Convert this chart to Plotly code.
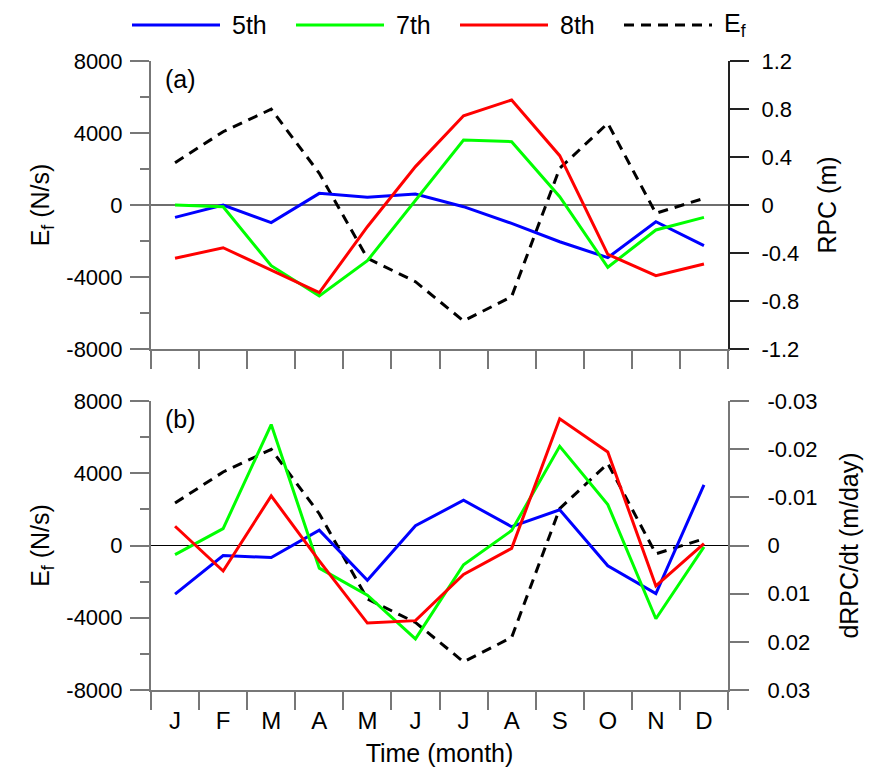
import plotly.graph_objects as go

# ---------------- data ----------------
months = ["J", "F", "M", "A", "M", "J", "J", "A", "S", "O", "N", "D"]
month_idx = list(range(1, 13))

# E_f (N/s), left axes of both panels
ef = [2350, 4070, 5320, 1760, -2960, -4260, -6440, -5090, 2040, 4540, -460, 370]

# RPC (m), panel (a) right axis
rpc_5th = [-0.103, 0.000, -0.147, 0.097, 0.064, 0.092, -0.014, -0.153, -0.306, -0.439, -0.139, -0.339]
rpc_7th = [0.000, -0.014, -0.506, -0.758, -0.464, 0.042, 0.542, 0.528, 0.069, -0.519, -0.208, -0.103]
rpc_8th = [-0.444, -0.356, -0.542, -0.731, -0.181, 0.320, 0.744, 0.875, 0.411, -0.411, -0.589, -0.492]

# dRPC/dt (m/day), panel (b) right axis (reversed)
drpc_5th = [0.0101, 0.0021, 0.0025, -0.0032, 0.0072, -0.0041, -0.0094, -0.0039, -0.0074, 0.0042, 0.0100, -0.0126]
drpc_7th = [0.0019, -0.0035, -0.0251, 0.0047, 0.0103, 0.0194, 0.0040, -0.0031, -0.0206, -0.0085, 0.0152, 0.0003]
drpc_8th = [-0.0040, 0.0053, -0.0103, 0.0032, 0.0161, 0.0156, 0.0060, 0.0006, -0.0263, -0.0194, 0.0084, -0.0004]

ef_ticks = [-8000, -4000, 0, 4000, 8000]
ef_ticktext = ["-8000", "-4000", "0", "4000", "8000"]
ef_minor = [-6000, -2000, 2000, 6000]
rpc_ticks = [-1.2, -0.8, -0.4, 0, 0.4, 0.8, 1.2]
rpc_ticktext = ["-1.2", "-0.8", "-0.4", "0", "0.4", "0.8", "1.2"]
drpc_ticks = [-0.03, -0.02, -0.01, 0, 0.01, 0.02, 0.03]
drpc_ticktext = ["-0.03", "-0.02", "-0.01", "0", "0.01", "0.02", "0.03"]
month_bounds = [m - 0.5 for m in month_idx] + [12.5]

legend_names = ["5th", "7th", "8th", "E<sub>f</sub>"]
legend_colors = ["#0000FF", "#00FF00", "#FF0000", "black"]
legend_dashes = ["solid", "solid", "solid", "10px,7px"]

# ---------------- styles ----------------
FONT = "Arial, Liberation Sans, sans-serif"
AX = "#777777"
W, H = 871, 769
ML, MR, MT, MB = 151, 143, 61, 79
PW, PH = W - ML - MR, H - MT - MB

series = [
    ("5th", "#0000FF", rpc_5th, drpc_5th),
    ("7th", "#00FF00", rpc_7th, drpc_7th),
    ("8th", "#FF0000", rpc_8th, drpc_8th),
]

fig = go.Figure()

# dashed E_f
for xa, ya in (("x", "y"), ("x2", "y3")):
    fig.add_trace(go.Scatter(x=month_idx, y=ef, mode="lines", name="E<sub>f</sub>",
                             line=dict(color="black", width=3, dash="10px,7px"),
                             xaxis=xa, yaxis=ya, showlegend=False))

for name, col, a, b in series:
    fig.add_trace(go.Scatter(x=month_idx, y=a, mode="lines", name=name,
                             line=dict(color=col, width=3),
                             xaxis="x", yaxis="y2", showlegend=False))
    fig.add_trace(go.Scatter(x=month_idx, y=b, mode="lines", name=name,
                             line=dict(color=col, width=3),
                             xaxis="x2", yaxis="y4", showlegend=False))

dom_a = [(690 - 349) / PH, 1.0]
dom_b = [0.0, (690 - 401) / PH]

xcommon = dict(range=[0.5, 12.5], tickvals=month_idx, ticks="", showline=True,
               linecolor=AX, linewidth=2, showgrid=False, zeroline=False,
               minor=dict(tickvals=month_bounds, ticks="outside", ticklen=18,
                          tickwidth=1.5, tickcolor=AX, showgrid=False))

ycommon = dict(showline=True, linecolor=AX, linewidth=2, showgrid=False,
               ticks="outside", ticklen=19, tickwidth=1.5, tickcolor=AX,
               tickfont=dict(size=22, family=FONT, color="black"))

# ---- legend drawn at the top (keys + labels) ----
def px_to_paper_x(px):
    return (px - ML) / PW

def py_to_paper_y(py):
    return (H - MB - py) / PH

shapes = []
annotations = []
leg_y = py_to_paper_y(25)
for i, (nm, col, dsh) in enumerate(zip(legend_names, legend_colors, legend_dashes)):
    x0 = 132 + 164 * i
    shapes.append(dict(type="line", xref="paper", yref="paper",
                       x0=px_to_paper_x(x0), x1=px_to_paper_x(x0 + 88),
                       y0=leg_y, y1=leg_y,
                       line=dict(color=col, width=3, dash=dsh)))
    annotations.append(dict(text=nm, xref="paper", yref="paper",
                            x=px_to_paper_x(x0 + 98), y=leg_y,
                            xanchor="left", yanchor="middle", showarrow=False,
                            font=dict(size=25, family=FONT, color="black")))

annotations += [
    dict(text="(a)", xref="x domain", yref="y domain", x=0.021, y=0.9375,
         xanchor="left", yanchor="middle", showarrow=False, font=dict(size=25)),
    dict(text="(b)", xref="x2 domain", yref="y3 domain", x=0.021, y=0.9377,
         xanchor="left", yanchor="middle", showarrow=False, font=dict(size=25)),
]

fig.update_layout(
    width=W, height=H,
    margin=dict(l=ML, r=MR, t=MT, b=MB, autoexpand=False),
    plot_bgcolor="white", paper_bgcolor="white",
    font=dict(family=FONT, size=22, color="black"),
    showlegend=False,
    xaxis=dict(domain=[0, 1], anchor="y", showticklabels=False, **xcommon),
    xaxis2=dict(domain=[0, 1], anchor="y3", matches="x", ticktext=months,
                ticklabelstandoff=8,
                tickfont=dict(size=24, family=FONT),
                title=dict(text="Time (month)", font=dict(size=25), standoff=12),
                **xcommon),
    yaxis=dict(domain=dom_a, anchor="x", range=[-8000, 8000], tickvals=ef_ticks,
               ticktext=ef_ticktext, zeroline=True, zerolinecolor="#6e6e6e", zerolinewidth=2,
               ticklabelstandoff=3,
               minor=dict(tickvals=ef_minor, ticks="outside", ticklen=9, tickwidth=1.5,
                          tickcolor=AX, showgrid=False),
               title=dict(text="E<sub>f</sub> (N/s)", font=dict(size=25), standoff=10),
               **ycommon),
    yaxis2=dict(overlaying="y", side="right", anchor="x", range=[-1.2, 1.2],
                tickvals=rpc_ticks, ticktext=rpc_ticktext, zeroline=False,
                ticklabelstandoff=8,
                title=dict(text="RPC (m)", font=dict(size=25), standoff=20),
                **{**ycommon, "linecolor": "#222222", "tickcolor": "#222222"}),
    yaxis3=dict(domain=dom_b, anchor="x2", range=[-8000, 8000], tickvals=ef_ticks,
                ticktext=ef_ticktext, zeroline=True, zerolinecolor="black", zerolinewidth=1,
                ticklabelstandoff=3,
                minor=dict(tickvals=ef_minor, ticks="outside", ticklen=9, tickwidth=1.5,
                           tickcolor=AX, showgrid=False),
                title=dict(text="E<sub>f</sub> (N/s)", font=dict(size=25), standoff=10),
                **ycommon),
    yaxis4=dict(overlaying="y3", side="right", anchor="x2", range=[0.03, -0.03],
                tickvals=drpc_ticks, ticktext=drpc_ticktext, zeroline=False,
                ticklabelstandoff=14,
                title=dict(text="dRPC/dt (m/day)", font=dict(size=25), standoff=24),
                **ycommon),
    shapes=shapes,
    annotations=annotations,
)

fig.write_html("out.html")
